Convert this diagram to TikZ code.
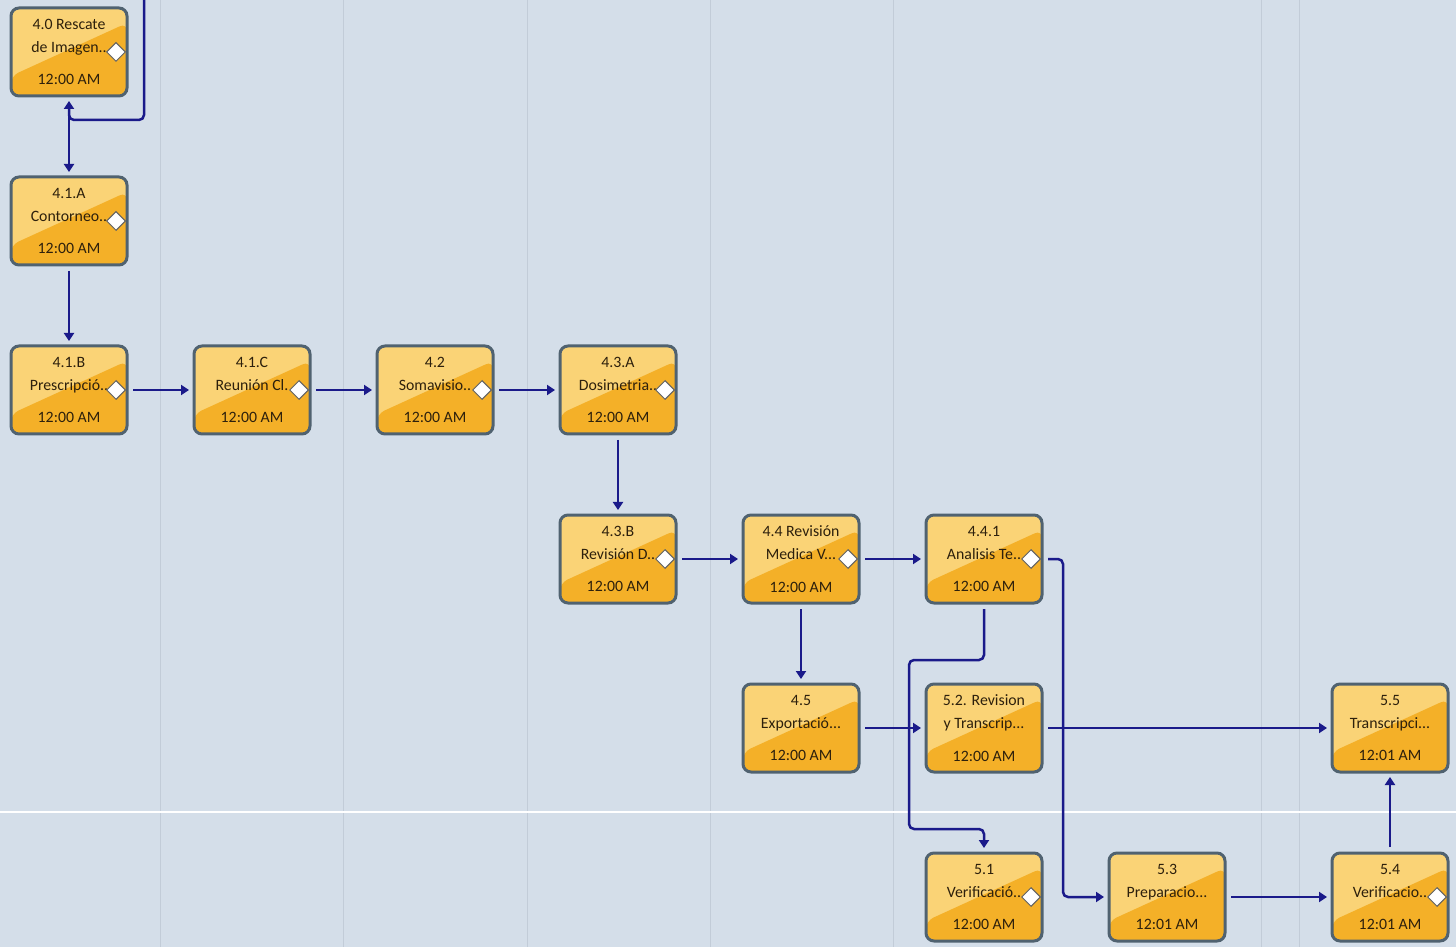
\documentclass[tikz,border=0pt]{standalone}
\usepackage{fontspec}
\setmainfont{Carlito}
\usepackage{xcolor}
\usepackage{tikz}
\usetikzlibrary{positioning,arrows.meta,shapes.geometric}
\definecolor{canvas}{RGB}{212,222,233}
\definecolor{gridgray}{RGB}{194,204,216}
\definecolor{tasklight}{RGB}{250,211,118}
\definecolor{taskdark}{RGB}{244,176,40}
\definecolor{taskedge}{RGB}{80,98,112}
\definecolor{linkblue}{RGB}{26,26,138}
\definecolor{textbrown}{RGB}{45,32,12}
\tikzset{
  task/.style={rectangle,draw=taskedge,line width=0.06cm,rounded corners=0.16cm,fill=tasklight,
    minimum width=2.32cm,minimum height=1.76cm,inner sep=0pt,outer sep=0pt,align=center,
    text=textbrown,font=\fontsize{9}{13}\selectfont,
    path picture={\fill[taskdark] ([yshift=0.4cm]path picture bounding box.south west)
      -- ([yshift=-0.3cm]path picture bounding box.north east)
      -- (path picture bounding box.south east) -- (path picture bounding box.south west) -- cycle;}},
  gatemark/.style={diamond,draw=gray!75!black,fill=white,line width=0.02cm,minimum size=0.38cm,inner sep=0pt},
  gate/.style={label={[gatemark,xshift=0.94cm]center:{}}},
  flow/.style={draw=linkblue,line width=0.05cm,-{Triangle[length=0.16cm,width=0.2cm]},
    shorten >=0.1cm,shorten <=0.12cm,rounded corners=0.1cm}
}

\begin{document}
\begin{tikzpicture}[
			node distance=1.62cm and 1.34cm
			]
			
			\useasboundingbox (0,0) rectangle (29.12,-18.94);
			\fill[canvas] (0,0) rectangle (29.12,-18.94);
			\foreach \gx in {3.2,6.86,10.54,14.2,17.86,25.22,25.98}
				\draw[gridgray,line width=0.02cm] (\gx,0) -- (\gx,-18.94);
			\draw[white,line width=0.03cm] (0,-16.24) -- (29.12,-16.24);
			
			\node[task,gate] (r40) at (1.38,-1.04) {4.0 Rescate\\de Imagen..\\[0.2cm]12:00 AM};
			\node[task,gate, below=of r40] (c41a) {4.1.A\\Contorneo..\\[0.2cm]12:00 AM};
			\node[task,gate, below=of c41a] (p41b) {4.1.B\\Prescripció..\\[0.2cm]12:00 AM};
			\node[task,gate, right=of p41b] (r41c) {4.1.C\\Reunión Cl.\\[0.2cm]12:00 AM};
			\node[task,gate, right=of r41c] (s42) {4.2\\Somavisio..\\[0.2cm]12:00 AM};
			\node[task,gate, right=of s42] (d43a) {4.3.A\\Dosimetria..\\[0.2cm]12:00 AM};
			\node[task,gate, below=of d43a] (r43b) {4.3.B\\Revisión D..\\[0.2cm]12:00 AM};
			\node[task,gate, right=of r43b] (m44) {4.4 Revisión\\Medica V...\\[0.2cm]12:00 AM};
			\node[task,gate, right=of m44] (a441) {4.4.1\\Analisis Te..\\[0.2cm]12:00 AM};
			\node[task, below=of m44] (e45) {4.5\\Exportació...\\[0.2cm]12:00 AM};
			\node[task, below=of a441] (r52) {5.2. Revision\\y Transcrip...\\[0.2cm]12:00 AM};
			\node[task,gate, below=of r52] (v51) {5.1\\Verificació..\\[0.2cm]12:00 AM};
			\node[task, right=of v51] (p53) {5.3\\Preparacio...\\[0.2cm]12:01 AM};
			\node[task,gate, right=2.14cm of p53] (v54) {5.4\\Verificacio..\\[0.2cm]12:01 AM};
			\node[task, above=of v54] (t55) {5.5\\Transcripci...\\[0.2cm]12:01 AM};
			
			\coordinate (feed) at (2.88,0);
			\draw[flow,shorten <=0pt] (feed) |- ([yshift=-0.48cm]r40.south) -- (r40.south);
			\draw[flow] (r40) -- (c41a);
			\draw[flow] (c41a) -- (p41b);
			\draw[flow] (p41b) -- (r41c);
			\draw[flow] (r41c) -- (s42);
			\draw[flow] (s42) -- (d43a);
			\draw[flow] (d43a) -- (r43b);
			\draw[flow] (r43b) -- (m44);
			\draw[flow] (m44) -- (a441);
			\draw[flow] (m44) -- (e45);
			\draw[flow] (e45) -- (r52);
			\draw[flow] (a441.south) -- ++(0,-1.14) -- ++(-1.5,0) |- ([yshift=0.48cm]v51.north) -- (v51.north);
			\draw[flow] (a441.east) -- ++(0.42,0) |- (p53.west);
			\draw[flow] (r52) -- (t55);
			\draw[flow] (p53) -- (v54);
			\draw[flow] (v54) -- (t55);
			
		\end{tikzpicture}
\end{document}
